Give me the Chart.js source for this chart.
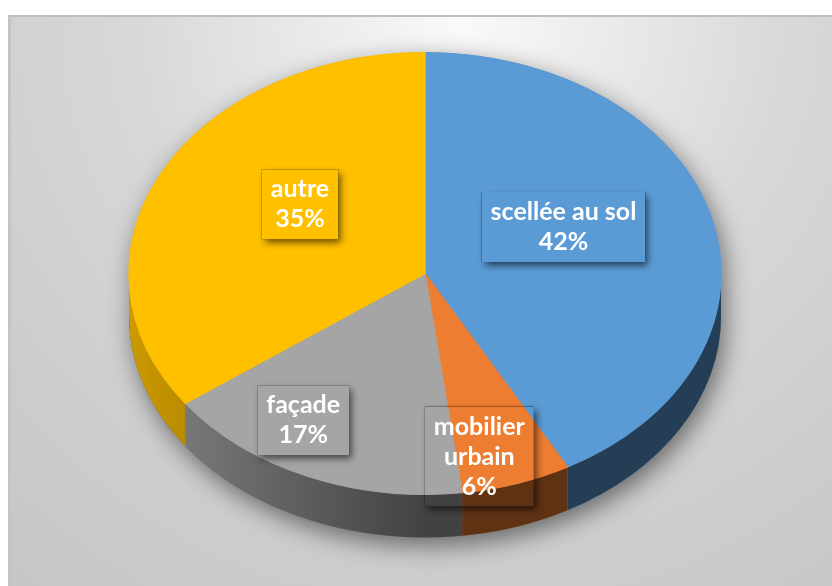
<!DOCTYPE html>
<html>
<head>
<meta charset="utf-8">
<script src="https://cdn.jsdelivr.net/npm/chart.js@4.4.1/dist/chart.umd.min.js"></script>
<style>
    html, body { margin: 0; padding: 0; background: #fff; }
    #fundo {
        position: absolute; left: 8px; top: 15px; width: 821px; height: 569px;
        border-top: 2px solid #bfbfbf; border-left: 3px solid #c4c4c4;
        background: radial-gradient(circle farthest-corner at 55% 0%, #fafafa 0%, #ececec 18%, #d8d8d8 45%, #cdcdcd 75%, #c6c6c6 100%);
    }
    #grafico { position: absolute; left: 0; top: 0; }
</style>
</head>
<body>
<div id="fundo"></div>
<canvas id="grafico" width="832" height="586"></canvas>
<script>
// dados
const categorias = ['scellée au sol', 'mobilier urbain', 'façade', 'autre'];
const valores = [42, 6, 17, 35];
const cores = ['#5b9bd5', '#ed7d31', '#a5a5a5', '#ffc000'];

// aparência da "pizza 3D"
const RAIO_X = 296;        // meia largura da elipse
const PROF = 43;           // espessura da lateral
const TAM_FONTE = 25;
const ALT_LINHA = 30;
const PAD_X = 9, PAD_Y = 5;
const LARG_MAX = 160;      // largura máxima antes de quebrar a linha
// posição dos rótulos: fração do raio e ajuste do ângulo (graus)
const fracRaio = [0.513, 0.848, 0.781, 0.526];
const ajusteAngulo = [-9.8, 5.5, 8.4, 9.6];

function quebrar(ctx, texto, max) {
    const palavras = texto.split(' ');
    const linhas = [];
    let atual = '';
    palavras.forEach(p => {
        const teste = atual ? atual + ' ' + p : p;
        if (atual && ctx.measureText(teste).width > max) {
            linhas.push(atual);
            atual = p;
        } else {
            atual = teste;
        }
    });
    if (atual) linhas.push(atual);
    return linhas;
}

function desenharRotulos(chart) {
    const ctx = chart.ctx;
    const arcos = chart.getDatasetMeta(0).data;
    ctx.save();
    ctx.font = `bold ${TAM_FONTE}px Lato`;
    arcos.forEach((arco, i) => {
        const r = arco.outerRadius;
        const sx = RAIO_X / r;
        const meio = (arco.startAngle + arco.endAngle) / 2 + ajusteAngulo[i] * Math.PI / 180;
        const cx = arco.x + Math.cos(meio) * r * sx * fracRaio[i];
        const cy = arco.y + Math.sin(meio) * r * fracRaio[i];

        const linhas = quebrar(ctx, categorias[i], LARG_MAX).concat(valores[i] + '%');
        const larg = Math.max(...linhas.map(l => ctx.measureText(l).width)) + 2 * PAD_X;
        const alt = linhas.length * ALT_LINHA + 2 * PAD_Y;
        const bx = cx - larg / 2, by = cy - alt / 2;

        // sombra da caixa, só do lado de fora
        ctx.save();
        ctx.beginPath();
        ctx.rect(0, 0, chart.width, chart.height);
        ctx.rect(bx, by, larg, alt);
        ctx.clip('evenodd');
        ctx.shadowColor = 'rgba(0,0,0,0.6)';
        ctx.shadowBlur = 7;
        ctx.shadowOffsetX = 3;
        ctx.shadowOffsetY = 4;
        ctx.fillStyle = '#000';
        ctx.fillRect(bx, by, larg, alt);
        ctx.restore();

        ctx.fillStyle = '#fff';
        ctx.textAlign = 'center';
        ctx.textBaseline = 'middle';
        linhas.forEach((l, k) => ctx.fillText(l, cx, by + PAD_Y + ALT_LINHA * (k + 0.5)));
    });
    ctx.restore();
}

const pizza3d = {
    id: 'pizza3d',
    beforeDatasetsDraw(chart) {
        const ctx = chart.ctx;
        const arcos = chart.getDatasetMeta(0).data;
        const { x, y, outerRadius: r } = arcos[0];
        const sx = RAIO_X / r;

        ctx.save();
        ctx.translate(x, y);
        ctx.scale(sx, 1);
        ctx.translate(-x, -y);

        // sombra projetada da pizza inteira
        ctx.save();
        ctx.shadowColor = 'rgba(0,0,0,0.5)';
        ctx.shadowBlur = 24;
        ctx.shadowOffsetX = 4;
        ctx.shadowOffsetY = 8;
        ctx.beginPath();
        ctx.arc(x, y, r, Math.PI, 2 * Math.PI);
        ctx.lineTo(x + r, y + PROF);
        ctx.arc(x, y + PROF, r, 0, Math.PI);
        ctx.closePath();
        ctx.fillStyle = '#555';
        ctx.fill();
        ctx.restore();

        // laterais de cada fatia (só a metade da frente aparece)
        const escurecer = ctx.createLinearGradient(x - r, 0, x + r, 0);
        escurecer.addColorStop(0, 'rgba(0,0,0,0.2)');
        escurecer.addColorStop(0.5, 'rgba(0,0,0,0.6)');
        escurecer.addColorStop(1, 'rgba(0,0,0,0.6)');

        arcos.forEach((arco, i) => {
            const a0 = Math.max(arco.startAngle, 0);
            const a1 = Math.min(arco.endAngle, Math.PI);
            if (a1 <= a0) return;
            ctx.beginPath();
            ctx.arc(x, y, r, a0, a1);
            ctx.lineTo(x + r * Math.cos(a1), y + r * Math.sin(a1) + PROF);
            ctx.arc(x, y + PROF, r, a1, a0, true);
            ctx.closePath();
            ctx.fillStyle = cores[i];
            ctx.fill();
            ctx.fillStyle = escurecer;
            ctx.fill();
        });
        // o restore fica para depois que as fatias forem desenhadas
    },
    afterDatasetsDraw(chart) {
        chart.ctx.restore();
        desenharRotulos(chart);
    }
};

new Chart(document.getElementById('grafico'), {
    type: 'pie',
    plugins: [pizza3d],
    data: {
        labels: categorias,
        datasets: [{
            data: valores,
            backgroundColor: cores,
            borderColor: cores,
            borderWidth: 1,
            clip: false
        }]
    },
    options: {
        responsive: false,
        animation: false,
        layout: { padding: { left: 203.5, right: 185.5, top: 52, bottom: 91 } },
        plugins: {
            legend: { display: false },
            tooltip: { enabled: false }
        }
    }
});
</script>
</body>
</html>
